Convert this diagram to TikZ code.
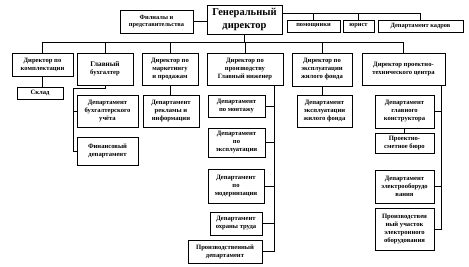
\documentclass[tikz,border=0pt]{standalone}
\usepackage{fontspec}
\setmainfont{Liberation Serif}
\begin{document}
\begin{tikzpicture}[x=1pt,y=-1pt,
  ob/.style={draw, line width=0.9pt, align=center, inner sep=0.5pt,
    font=\fontsize{6.6}{8}\selectfont\bfseries},
  smallob/.style={ob, font=\fontsize{6.4}{7.4}\selectfont\bfseries},
  bigob/.style={ob, line width=1pt, font=\fontsize{10.5}{12.5}\selectfont\bfseries},
  ln/.style={line width=0.8pt}]
\useasboundingbox[fill=white] (0,0) rectangle (469,266);
% top row
\node[bigob, minimum width=75pt, minimum height=29pt] (gd) at (244.5,19.5) {Генеральный\\директор};
\node[smallob, minimum width=73pt, minimum height=23pt] (fil) at (156.5,21.5) {Филиалы и\\представительства};
\node[smallob, minimum width=53pt, minimum height=12pt] (pom) at (313.5,26) {помощники};
\node[smallob, minimum width=31pt, minimum height=12pt] (yur) at (358.5,26) {юрист};
\node[smallob, minimum width=85pt, minimum height=12pt] (kad) at (420.5,26) {Департамент кадров};
% second row
\node[ob, minimum width=61pt, minimum height=23pt] (komp) at (42.5,64.5) {Директор по\\комплектации};
\node[ob, minimum width=56pt, minimum height=32pt] (buh) at (105,69) {\fontsize{7.2}{8.6}\selectfont Главный\\бухгалтер};
\node[ob, minimum width=56pt, minimum height=32pt] (mark) at (170,69) {Директор по\\маркетингу\\и продажам};
\node[ob, minimum width=76pt, minimum height=32pt] (prod) at (245,69) {Директор по\\производству\\Главный инженер};
\node[ob, minimum width=60pt, minimum height=33pt] (expl) at (322,69.5) {Директор по\\эксплуатации\\жилого фонда};
\node[ob, minimum width=83pt, minimum height=32pt] (proj) at (403.5,69) {Директор проектно-\\технического центра};
% third level
\node[ob, minimum width=46pt, minimum height=12pt] (sklad) at (40,93) {Склад};
\node[ob, minimum width=61pt, minimum height=32pt] (buhu) at (107.5,111) {Департамент\\бухгалтерского\\учёта};
\node[ob, minimum width=61pt, minimum height=28pt] (fin) at (107.5,151) {Финансовый\\департамент};
\node[ob, minimum width=56pt, minimum height=32pt] (rek) at (171,111) {Департамент\\рекламы и\\информации};
\node[ob, minimum width=57pt, minimum height=22pt] (mon) at (236.5,106) {Департамент\\по монтажу};
\node[ob, minimum width=57pt, minimum height=29pt] (ekspl) at (236.5,142.5) {Департамент\\по\\эксплуатации};
\node[ob, minimum width=56pt, minimum height=34pt] (mod) at (236,186) {Департамент\\по\\модернизации};
\node[ob, minimum width=52pt, minimum height=23pt] (ohr) at (236,223.5) {Департамент\\охраны труда};
\node[ob, minimum width=74pt, minimum height=23pt] (proizv) at (225,251.5) {Производственный\\департамент};
\node[ob, minimum width=55pt, minimum height=32pt] (zhf) at (324.5,111) {Департамент\\эксплуатации\\жилого фонда};
\node[ob, minimum width=59pt, minimum height=33pt] (konst) at (404.5,111.5) {Департамент\\главного\\конструктора};
\node[ob, minimum width=59pt, minimum height=20pt] (smet) at (404.5,143) {Проектно-\\сметное бюро};
\node[ob, minimum width=59pt, minimum height=33pt] (elek) at (404.5,186.5) {Департамент\\электрооборудо\\вания};
\node[ob, minimum width=59pt, minimum height=42pt] (uch) at (404.5,229) {Производствен\\ный участок\\электронного\\оборудования};
% connectors: top
\draw[ln] (fil.east) -- (fil.east -| gd.west);
\coordinate (rt) at (282,13);
\draw[ln] (rt) -- (kad.north |- rt) -- (kad.north);
\draw[ln] (pom.north |- rt) -- (pom.north);
\draw[ln] (yur.north |- rt) -- (yur.north);
% bus
\coordinate (bus) at (0,42);
\draw[ln] (komp.north) -- (komp.north |- bus) -- (proj.north |- bus) -- (proj.north);
\draw[ln] (gd.south) -- (gd.south |- bus);
\draw[ln] (buh.north |- bus) -- (buh.north);
\draw[ln] (mark.north |- bus) -- (mark.north);
\draw[ln] (prod.north |- bus) -- (prod.north);
\draw[ln] (expl.north |- bus) -- (expl.north);
% komplektatsiya
\draw[ln] (komp.south) -- (komp.south |- sklad.north);
% buhgalter
\coordinate (bt) at (73,88);
\draw[ln] (buh.south) |- (bt) -- (bt |- fin.west) -- (fin.west);
\draw[ln] (bt |- buhu.west) -- (buhu.west);
% marketing
\draw[ln] (mark.south) -- (mark.south |- rek.north);
% proizvodstvo
\coordinate (pv) at (274,85);
\draw[ln] (pv) -- (pv |- proizv.east) -- (proizv.east);
\draw[ln] (pv |- mon.east) -- (mon.east);
\draw[ln] (pv |- ekspl.east) -- (ekspl.east);
\draw[ln] (pv |- mod.east) -- (mod.east);
\draw[ln] (pv |- ohr.east) -- (ohr.east);
% ekspluatatsiya
\draw[ln] (expl.south) -- (expl.south |- zhf.north);
% proekt
\coordinate (qv) at (441,85);
\draw[ln] (qv) -- (qv |- uch.east) -- (uch.east);
\draw[ln] (qv |- konst.east) -- (konst.east);
\draw[ln] (qv |- elek.east) -- (elek.east);
\draw[ln] (konst.south) -- (smet.north);
\end{tikzpicture}
\end{document}
